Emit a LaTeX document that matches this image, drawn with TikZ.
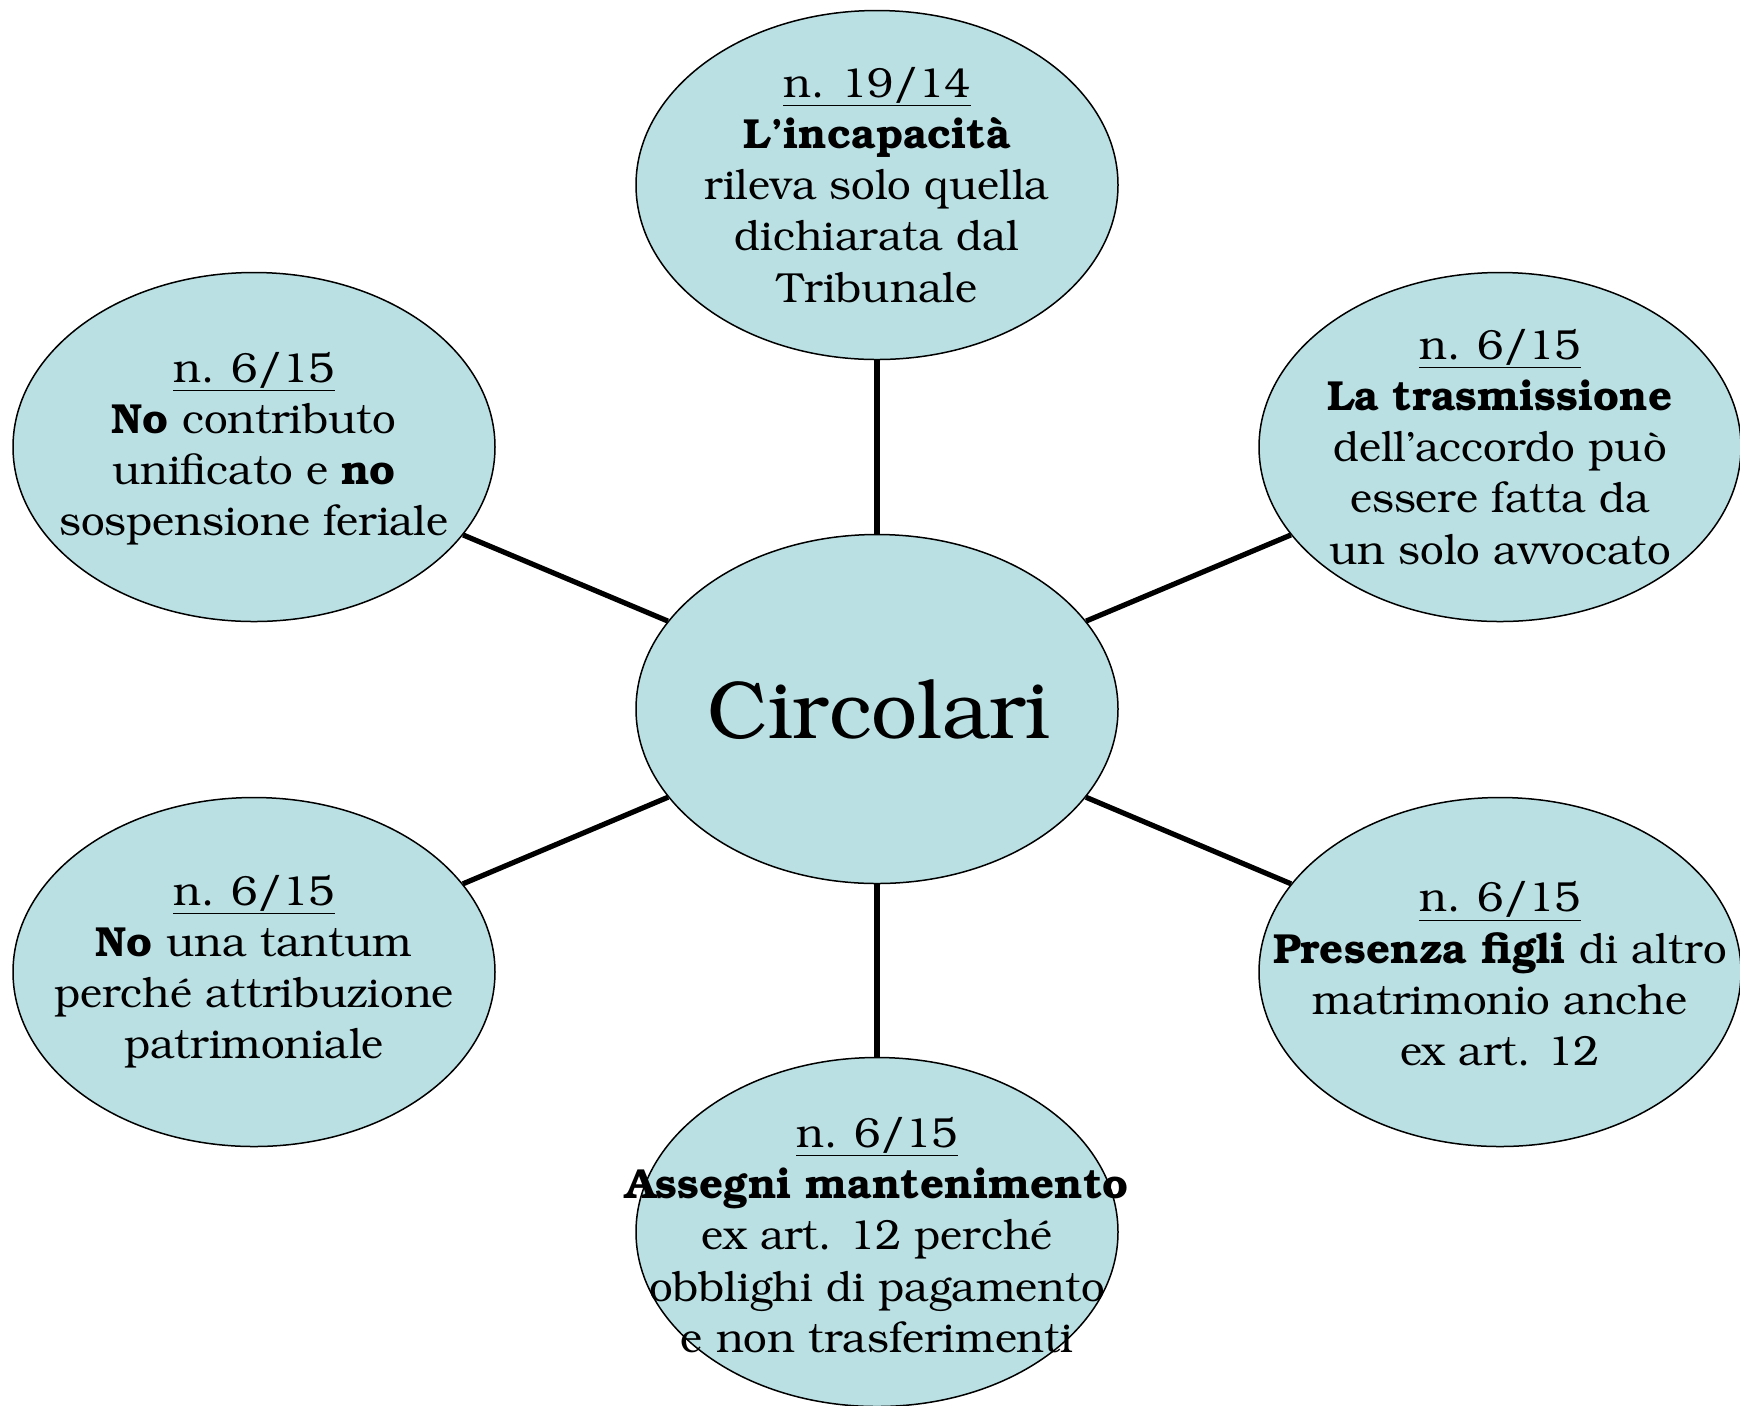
\documentclass[tikz,border=0pt]{standalone}
\usepackage[T1]{fontenc}
\usepackage{bookman}
\usetikzlibrary{shapes.geometric}
\definecolor{bubble}{RGB}{186,224,227}
\tikzset{
  bubble/.style={ellipse, draw=black, line width=0.75pt, fill=bubble,
    minimum width=241pt, minimum height=174.5pt, inner sep=0pt},
  txt/.style={align=center, inner sep=0pt, font=\fontsize{21}{25.65}\selectfont},
  link/.style={line width=2.6pt, black}
}
\begin{document}
\begin{tikzpicture}[x=0.5pt, y=-0.5pt]
\path[use as bounding box] (0,0) rectangle (1740,1405);
% ellipses
\node[bubble] (C)  at (877,709) {};
\node[bubble] (T)  at (877,185) {};
\node[bubble] (UL) at (254,447) {};
\node[bubble] (UR) at (1500,447) {};
\node[bubble] (LL) at (254,972) {};
\node[bubble] (LR) at (1500,972) {};
\node[bubble] (B)  at (877,1232) {};
% connectors
\draw[link] (C) -- (T);
\draw[link] (C) -- (UL);
\draw[link] (C) -- (UR);
\draw[link] (C) -- (LL);
\draw[link] (C) -- (LR);
\draw[link] (C) -- (B);
% texts
\node[inner sep=0pt, font=\fontsize{41}{49}\selectfont] (Ct) at (879,711) {Circolari};
\node[txt] (Tt) at (877,185) {\underline{n. 19/14}\\ \textbf{L'incapacit\`a}\\ rileva solo quella\\ dichiarata dal\\ Tribunale};
\node[txt] (ULt) at (254,449) {\underline{n. 6/15}\\ \textbf{No} contributo\\ unificato e \textbf{no}\\ sospensione feriale};
\node[txt] (URt) at (1500,447) {\underline{n. 6/15}\\ \textbf{La trasmissione}\\ dell'accordo pu\`o\\ essere fatta da\\ un solo avvocato};
\node[txt] (LLt) at (254,972) {\underline{n. 6/15}\\ \textbf{No} una tantum\\ perch\'e attribuzione\\ patrimoniale};
\node[txt] (LRt) at (1500,974) {\underline{n. 6/15}\\ \textbf{Presenza figli} di altro\\ matrimonio anche\\ ex art. 12};
\node[txt] (Bt) at (877,1235) {\underline{n. 6/15}\\ \textbf{Assegni mantenimento}\\ ex art. 12 perch\'e\\ obblighi di pagamento\\ e non trasferimenti};
\end{tikzpicture}
\end{document}
